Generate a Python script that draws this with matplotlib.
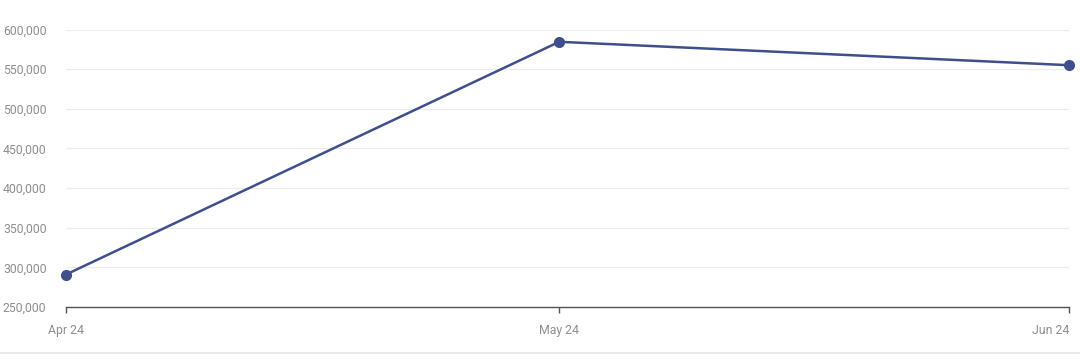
import matplotlib.pyplot as plt
import matplotlib.dates as mdates
from matplotlib.ticker import FuncFormatter
from matplotlib.lines import Line2D
from datetime import date

months = ['Apr 24', 'May 24', 'Jun 24']
dates = [date(2024, 4, 1), date(2024, 5, 1), date(2024, 6, 1)]
values = [291000, 584500, 555000]
yticks = [250000, 300000, 350000, 400000, 450000, 500000, 550000, 600000]

plt.rcParams['font.family'] = ['Roboto', 'DejaVu Sans']

fig = plt.figure(figsize=(10.8, 3.59), dpi=100)
ax = fig.add_axes([0.0611, 0.1448, 0.9287, 0.773])

ax.plot(dates, values, color='#3f4f8c', lw=1.8, marker='o', ms=7,
        zorder=3, clip_on=False)

ax.set_xlim(dates[0], dates[-1])
ax.set_ylim(yticks[0], yticks[-1])
ax.set_yticks(yticks)
ax.yaxis.set_major_formatter(FuncFormatter(lambda v, p: f'{int(v):,}'))
ax.set_xticks(dates)
ax.set_xticklabels(months)
ax.get_xticklabels()[-1].set_ha('right')

ax.grid(axis='y', color='#ececec', lw=0.8)
ax.set_axisbelow(True)
for s in ['top', 'right', 'left']:
    ax.spines[s].set_visible(False)
ax.spines['bottom'].set_color('#555555')
ax.spines['bottom'].set_linewidth(1)

ax.tick_params(axis='y', length=0, pad=14, labelsize=8.8, labelcolor='#8f8f8f')
ax.tick_params(axis='x', length=4, width=1, color='#555555', pad=8,
               labelsize=8.8, labelcolor='#8f8f8f')

# light separator at the bottom
fig.add_artist(Line2D([0, 1], [0.017, 0.017], transform=fig.transFigure,
                      color='#e8e8e8', lw=1.5))

fig.savefig('out.png', dpi=100)
